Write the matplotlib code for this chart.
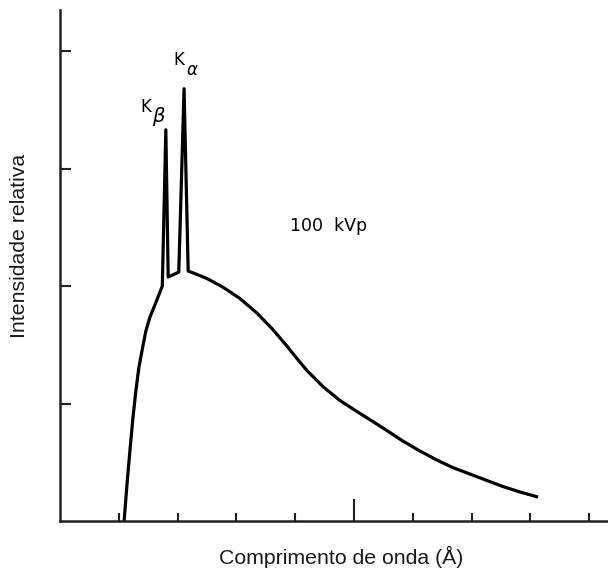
import matplotlib
matplotlib.use("Agg")
import matplotlib.pyplot as plt

# Spectrum (wavelength in Å, relative intensity)
wavelength = [0.109, 0.114, 0.119, 0.124, 0.129, 0.134, 0.140, 0.146, 0.153,
              0.162, 0.170, 0.174,
              0.180, 0.184, 0.202, 0.211, 0.218,
              0.238, 0.250, 0.277, 0.306, 0.335, 0.362, 0.386, 0.403, 0.420,
              0.447, 0.476, 0.505, 0.532, 0.556, 0.583, 0.612, 0.641, 0.668,
              0.697, 0.726, 0.753, 0.782, 0.813]
intensity = [0.000, 0.315, 0.604, 0.877, 1.106, 1.302, 1.464, 1.617, 1.736,
             1.847, 1.949, 2.000,
             3.33, 2.077, 2.119, 3.68, 2.128,
             2.089, 2.064, 1.991, 1.894, 1.770, 1.630, 1.489, 1.383, 1.281,
             1.145, 1.026, 0.932, 0.847, 0.770, 0.681, 0.596, 0.519, 0.455,
             0.400, 0.345, 0.294, 0.247, 0.204]

x_ticks = [0.1, 0.2, 0.3, 0.4, 0.5, 0.6, 0.7, 0.8, 0.9]
x_major = [0.5]
y_ticks = [1, 2, 3, 4]

W, H = 608, 570
fig = plt.figure(figsize=(W / 100, H / 100), dpi=100)
ax = fig.add_axes([60 / W, (H - 521) / H, (W - 60) / W, (521 - 10) / H])

ax.plot(wavelength, intensity, color="black", lw=2.3, solid_joinstyle="round",
        solid_capstyle="butt")

ax.set_xlim(0, 0.932)
ax.set_ylim(0, 4.35)

for s in ["top", "right"]:
    ax.spines[s].set_visible(False)
for s in ["left", "bottom"]:
    ax.spines[s].set_linewidth(1.8)
    ax.spines[s].set_color("#222222")

ax.set_xticks([t for t in x_ticks if t not in x_major])
ax.set_xticks(x_major, minor=True)
ax.tick_params(axis="x", which="major", direction="in", length=6, width=1.5,
               color="#222222", labelbottom=False)
ax.tick_params(axis="x", which="minor", direction="in", length=16, width=1.5,
               color="#222222", labelbottom=False)
ax.set_yticks(y_ticks)
ax.tick_params(axis="y", direction="in", length=8, width=1.5,
               color="#222222", labelleft=False)

ax.text(0.192, 3.88, "K", fontsize=12, ha="left", va="baseline",
        family="DejaVu Sans")
ax.text(0.215, 3.80, r"$\alpha$", fontsize=12, ha="left", va="baseline")
ax.text(0.136, 3.48, "K", fontsize=12, ha="left", va="baseline",
        family="DejaVu Sans")
ax.text(0.157, 3.40, r"$\beta$", fontsize=14, ha="left", va="baseline")
ax.text(0.391, 2.47, "100  kVp", fontsize=12.5, ha="left", va="baseline",
        family="DejaVu Sans")

fig.text(341 / W, 1 - 557 / H, "Comprimento de onda (Å)", fontsize=15.3,
         family="Liberation Sans", ha="center", va="center", color="#1a1a1a")
fig.text(20 / W, 1 - 246 / H, "Intensidade relativa", fontsize=15.3,
         family="Liberation Sans", ha="center", va="center", rotation=90,
         color="#1a1a1a")

fig.savefig("out.png", dpi=100)
